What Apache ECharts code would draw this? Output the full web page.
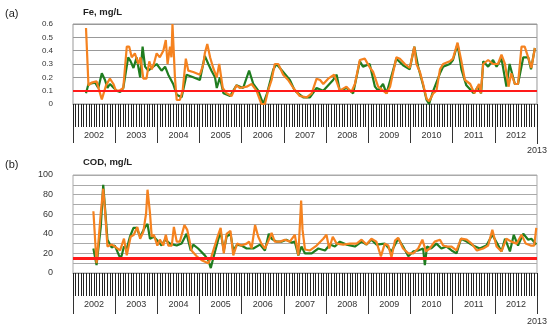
<!DOCTYPE html>
<html>
<head>
<meta charset="utf-8">
<script src="https://cdn.jsdelivr.net/npm/echarts@6/dist/echarts.min.js"></script>
<style>html,body{margin:0;padding:0;background:#fff}#c{width:550px;height:329px}</style>
</head>
<body>
<div id="c"></div>
<script>
// time unit: months since January 2002
const years = ['2002','2003','2004','2005','2006','2007','2008','2009','2010','2011','2012'];
const lastYearLabel = '2013';
const feLimit = 0.1;
const codLimit = 15;

const feGreen = [[3.7,0.08],[4.4,0.15],[6.3,0.16],[7.2,0.12],[8.2,0.23],[9.1,0.18],[9.8,0.12],[10.5,0.15],[12.4,0.1],[13.4,0.09],[14.3,0.12],[15.7,0.35],[16.4,0.32],[17.2,0.27],[18.1,0.35],[19.1,0.2],[19.8,0.43],[20.5,0.28],[21.4,0.25],[23.8,0.3],[25.2,0.25],[26.2,0.28],[27.1,0.22],[28.5,0.15],[29.5,0.07],[30.9,0.05],[32.3,0.22],[34.2,0.2],[36.1,0.18],[37.5,0.36],[38.5,0.3],[39.4,0.25],[40.4,0.2],[40.9,0.12],[41.8,0.2],[42.8,0.08],[44.7,0.06],[46.5,0.14],[48.4,0.12],[50.1,0.25],[51.3,0.15],[52.7,0.1],[54.1,0.0],[55.2,0.08],[57.0,0.26],[57.9,0.3],[59.8,0.24],[61.7,0.18],[63.1,0.1],[65.5,0.05],[67.4,0.05],[69.3,0.12],[71.2,0.1],[74.0,0.18],[75.0,0.22],[75.9,0.1],[77.8,0.12],[79.7,0.08],[81.6,0.32],[82.5,0.28],[84.4,0.3],[85.9,0.13],[86.8,0.1],[88.2,0.15],[89.2,0.08],[92.0,0.34],[93.9,0.29],[95.8,0.26],[97.1,0.43],[98.2,0.28],[99.6,0.14],[100.6,0.03],[101.3,0.0],[102.5,0.1],[104.4,0.23],[105.3,0.28],[107.2,0.3],[108.1,0.33],[109.4,0.45],[110.5,0.26],[111.9,0.14],[114.0,0.08],[115.2,0.13],[116.1,0.08],[116.7,0.32],[118.1,0.28],[119.5,0.33],[120.5,0.28],[121.9,0.34],[123.3,0.13],[124.2,0.3],[125.7,0.15],[126.6,0.15],[128.1,0.35],[129.5,0.35],[130.3,0.26],[131.4,0.42]];

const feOrange = [[3.7,0.57],[4.4,0.14],[5.3,0.16],[6.7,0.17],[7.2,0.17],[8.2,0.035],[9.4,0.14],[10.5,0.19],[11.5,0.15],[12.2,0.1],[13.2,0.1],[14.3,0.12],[15.3,0.43],[16.0,0.43],[16.7,0.35],[17.6,0.38],[18.6,0.3],[19.2,0.35],[20.0,0.19],[20.9,0.19],[21.7,0.32],[22.4,0.26],[23.0,0.3],[23.8,0.38],[24.7,0.35],[25.7,0.4],[26.4,0.48],[26.9,0.3],[27.6,0.43],[28.0,0.35],[28.3,0.6],[29.0,0.2],[29.5,0.03],[30.4,0.03],[31.2,0.1],[32.1,0.34],[32.8,0.25],[34.2,0.24],[36.1,0.22],[37.1,0.3],[37.5,0.38],[38.2,0.45],[39.0,0.35],[39.9,0.27],[40.9,0.2],[41.6,0.3],[42.6,0.12],[43.7,0.08],[45.1,0.06],[46.5,0.14],[47.5,0.12],[49.4,0.13],[50.8,0.15],[52.2,0.1],[53.6,0.0],[54.6,0.0],[55.5,0.1],[56.5,0.18],[57.4,0.3],[58.4,0.3],[59.8,0.22],[61.2,0.18],[62.7,0.12],[64.5,0.06],[66.5,0.05],[67.9,0.08],[69.3,0.19],[70.3,0.18],[71.2,0.15],[72.6,0.19],[74.3,0.22],[75.9,0.1],[77.8,0.13],[79.2,0.09],[80.2,0.15],[81.6,0.33],[83.0,0.34],[84.3,0.28],[85.4,0.24],[86.8,0.13],[89.2,0.08],[90.2,0.13],[92.0,0.35],[93.0,0.34],[94.4,0.3],[95.8,0.27],[97.1,0.43],[97.7,0.3],[98.7,0.24],[99.6,0.15],[100.6,0.04],[101.3,0.02],[102.5,0.08],[103.4,0.1],[104.4,0.26],[105.3,0.3],[107.2,0.32],[108.1,0.34],[109.4,0.46],[110.5,0.32],[111.5,0.18],[113.0,0.15],[114.2,0.08],[115.5,0.15],[116.0,0.08],[116.7,0.3],[118.1,0.33],[119.5,0.3],[120.9,0.3],[121.9,0.37],[122.9,0.3],[123.9,0.13],[124.7,0.23],[125.7,0.15],[126.6,0.15],[127.6,0.43],[128.5,0.43],[129.5,0.35],[130.4,0.27],[131.4,0.42]];

const codGreen = [[5.8,25],[6.7,8],[7.9,47],[8.6,90],[9.8,34],[11.0,26],[11.9,28],[13.2,17],[13.8,17],[14.5,27],[15.3,25],[16.2,37],[17.2,46],[18.1,46],[19.1,37],[20.5,47],[21.2,50],[21.9,35],[23.0,37],[24.3,32],[25.2,28],[26.2,34],[27.6,30],[29.5,28],[30.9,30],[32.3,40],[33.5,23],[34.2,29],[35.6,25],[37.5,18],[38.5,13],[39.2,5],[39.9,15],[41.3,34],[42.0,42],[42.9,23],[43.7,37],[44.8,40],[45.6,23],[46.7,29],[47.9,28],[49.4,25],[51.3,25],[53.2,29],[54.6,23],[55.7,40],[56.5,35],[57.9,32],[59.3,32],[60.7,34],[62.2,31],[63.1,32],[64.1,18],[65.0,27],[66.0,20],[67.9,20],[69.8,25],[71.7,23],[73.1,29],[74.5,27],[75.9,32],[77.8,29],[80.2,27],[82.1,32],[83.5,29],[84.9,34],[86.3,29],[88.7,30],[90.6,22],[92.5,35],[93.9,27],[95.4,17],[96.8,22],[98.2,23],[99.6,25],[100.1,8],[100.7,27],[101.9,25],[103.4,30],[104.8,25],[106.3,27],[107.7,23],[109.1,20],[110.4,35],[112.0,32],[113.8,28],[115.7,25],[117.6,28],[119.3,39],[120.7,30],[121.9,22],[122.9,35],[124.3,22],[125.4,39],[126.6,28],[128.1,40],[129.5,34],[130.4,35],[131.8,29]];

const codOrange = [[5.8,63],[6.7,10],[7.2,30],[7.9,61],[8.6,86],[9.1,64],[9.8,27],[11.0,29],[11.9,27],[13.4,23],[14.5,35],[15.3,18],[16.4,37],[17.3,39],[18.3,47],[19.1,35],[20.0,42],[20.8,61],[21.2,85],[21.9,61],[22.4,37],[23.0,39],[24.0,28],[24.7,34],[25.7,28],[26.4,39],[27.1,28],[28.1,28],[28.7,47],[29.5,32],[30.4,32],[31.7,49],[32.5,44],[33.1,34],[33.7,23],[35.2,17],[36.6,13],[38.5,10],[39.4,17],[41.3,39],[42.0,46],[42.9,20],[43.7,40],[44.8,43],[45.6,18],[46.7,30],[47.9,28],[49.4,30],[50.1,32],[50.8,25],[51.8,49],[52.7,37],[53.6,30],[54.6,25],[55.5,32],[56.5,41],[57.4,32],[58.9,32],[60.3,34],[61.7,32],[63.1,39],[64.1,18],[64.9,74],[65.3,44],[66.0,24],[67.4,23],[69.3,28],[71.2,35],[72.1,39],[72.9,25],[73.9,37],[75.0,30],[76.9,29],[78.8,30],[80.7,30],[82.1,34],[83.5,29],[84.9,35],[86.3,32],[87.6,17],[88.7,30],[89.7,28],[90.6,16],[91.6,33],[92.5,36],[93.9,25],[95.4,20],[96.8,20],[98.2,25],[99.4,34],[100.4,22],[101.5,25],[102.9,32],[104.4,34],[105.3,28],[106.3,27],[107.7,27],[109.1,23],[110.4,35],[112.0,34],[113.4,30],[114.9,23],[116.7,25],[118.1,28],[119.3,44],[120.5,27],[121.9,22],[123.3,35],[124.7,32],[126.2,30],[127.6,39],[128.8,30],[130.2,28],[131.2,28],[131.8,46]];

const GREEN = '#1f7d1f', ORANGE = '#f5821f', RED = '#ff1a1a';
const FONT = 'Liberation Sans, Arial, sans-serif';

function timeAxis(gi, tickLen) {
  return {
    type: 'value', gridIndex: gi, min: 0, max: 132, interval: 0.75,
    axisLine: { show: true, onZero: false, lineStyle: { color: '#888', width: 1 } },
    axisTick: { show: true, length: tickLen, lineStyle: { color: '#222', width: 1 } },
    axisLabel: { show: false }, splitLine: { show: false }
  };
}
function yearAxis(gi, off, sepLen, fs) {
  return {
    type: 'category', gridIndex: gi, data: years, position: 'bottom', offset: off,
    boundaryGap: true,
    axisLine: { show: false, onZero: false },
    axisTick: { show: true, interval: 0, length: sepLen, lineStyle: { color: '#333', width: 1 } },
    axisLabel: { interval: 0, margin: 4, fontSize: fs, color: '#333', fontFamily: FONT },
    splitLine: { show: false }
  };
}
function endAxis(gi, off, tickLen, margin, fs) {
  return {
    type: 'value', gridIndex: gi, min: 0, max: years.length, position: 'bottom', offset: off,
    axisLine: { show: false, onZero: false },
    axisTick: { show: true, customValues: [years.length], length: tickLen, lineStyle: { color: '#333', width: 1 } },
    axisLabel: { show: true, customValues: [years.length], formatter: () => lastYearLabel, margin: margin, fontSize: fs, color: '#333', fontFamily: FONT },
    splitLine: { show: false }
  };
}
function limitLine(v, w) {
  return {
    silent: true, symbol: ['none', 'none'], animation: false,
    label: { show: false },
    lineStyle: { color: RED, width: w, type: 'solid' },
    data: [{ yAxis: v }]
  };
}

const chart = echarts.init(document.getElementById('c'), null, { renderer: 'canvas' });
chart.setOption({
  animation: false,
  backgroundColor: '#fff',
  textStyle: { fontFamily: FONT },
  title: [
    { text: '(a)', left: 5, top: 8, padding: 0, textStyle: { fontSize: 11, fontWeight: 'normal', color: '#222', fontFamily: FONT } },
    { text: 'Fe, mg/L', left: 83, top: 7, padding: 0, textStyle: { fontSize: 9.5, fontWeight: 'bold', color: '#222', fontFamily: FONT } },
    { text: '(b)', left: 5, top: 159, padding: 0, textStyle: { fontSize: 11, fontWeight: 'normal', color: '#222', fontFamily: FONT } },
    { text: 'COD, mg/L', left: 83, top: 157, padding: 0, textStyle: { fontSize: 9.5, fontWeight: 'bold', color: '#222', fontFamily: FONT } }
  ],
  grid: [
    { left: 73, right: 13, top: 24, height: 80, show: true, borderColor: '#999', borderWidth: 1, backgroundColor: 'transparent' },
    { left: 73, right: 12, top: 175, height: 98, show: true, borderColor: '#aaa', borderWidth: 1, backgroundColor: 'transparent' }
  ],
  xAxis: [
    timeAxis(0, 23), yearAxis(0, 23, 16, 9), endAxis(0, 23, 17, 19, 9),
    timeAxis(1, 23), yearAxis(1, 23, 18, 9), endAxis(1, 23, 18, 21, 9)
  ],
  yAxis: [
    { type: 'value', gridIndex: 0, min: 0, max: 0.6, interval: 0.1,
      axisLine: { show: false }, axisTick: { show: false },
      axisLabel: { margin: 20, fontSize: 8, color: '#333', fontFamily: FONT,
        formatter: v => (Math.abs(v) < 1e-9 ? '0' : v.toFixed(1)) },
      splitLine: { show: true, lineStyle: { color: '#999', width: 1 } } },
    { type: 'value', gridIndex: 1, min: 0, max: 100, interval: 10,
      axisLine: { show: false }, axisTick: { show: false },
      axisLabel: { margin: 20, fontSize: 9, color: '#333', fontFamily: FONT,
        formatter: v => (Math.round(v) % 20 === 0 ? String(Math.round(v)) : '') },
      splitLine: { show: true, lineStyle: { color: '#aaa', width: 1 } } }
  ],
  series: [
    { type: 'line', xAxisIndex: 0, yAxisIndex: 0, data: feGreen, showSymbol: false, symbol: 'none',
      lineStyle: { color: GREEN, width: 2.2 }, z: 2 },
    { type: 'line', xAxisIndex: 0, yAxisIndex: 0, data: feOrange, showSymbol: false, symbol: 'none',
      lineStyle: { color: ORANGE, width: 2.2 }, z: 3, markLine: limitLine(feLimit, 2) },
    { type: 'line', xAxisIndex: 3, yAxisIndex: 1, data: codGreen, showSymbol: false, symbol: 'none',
      lineStyle: { color: GREEN, width: 2.2 }, z: 2 },
    { type: 'line', xAxisIndex: 3, yAxisIndex: 1, data: codOrange, showSymbol: false, symbol: 'none',
      lineStyle: { color: ORANGE, width: 2.2 }, z: 3, markLine: limitLine(codLimit, 3) }
  ]
});
</script>
</body>
</html>
